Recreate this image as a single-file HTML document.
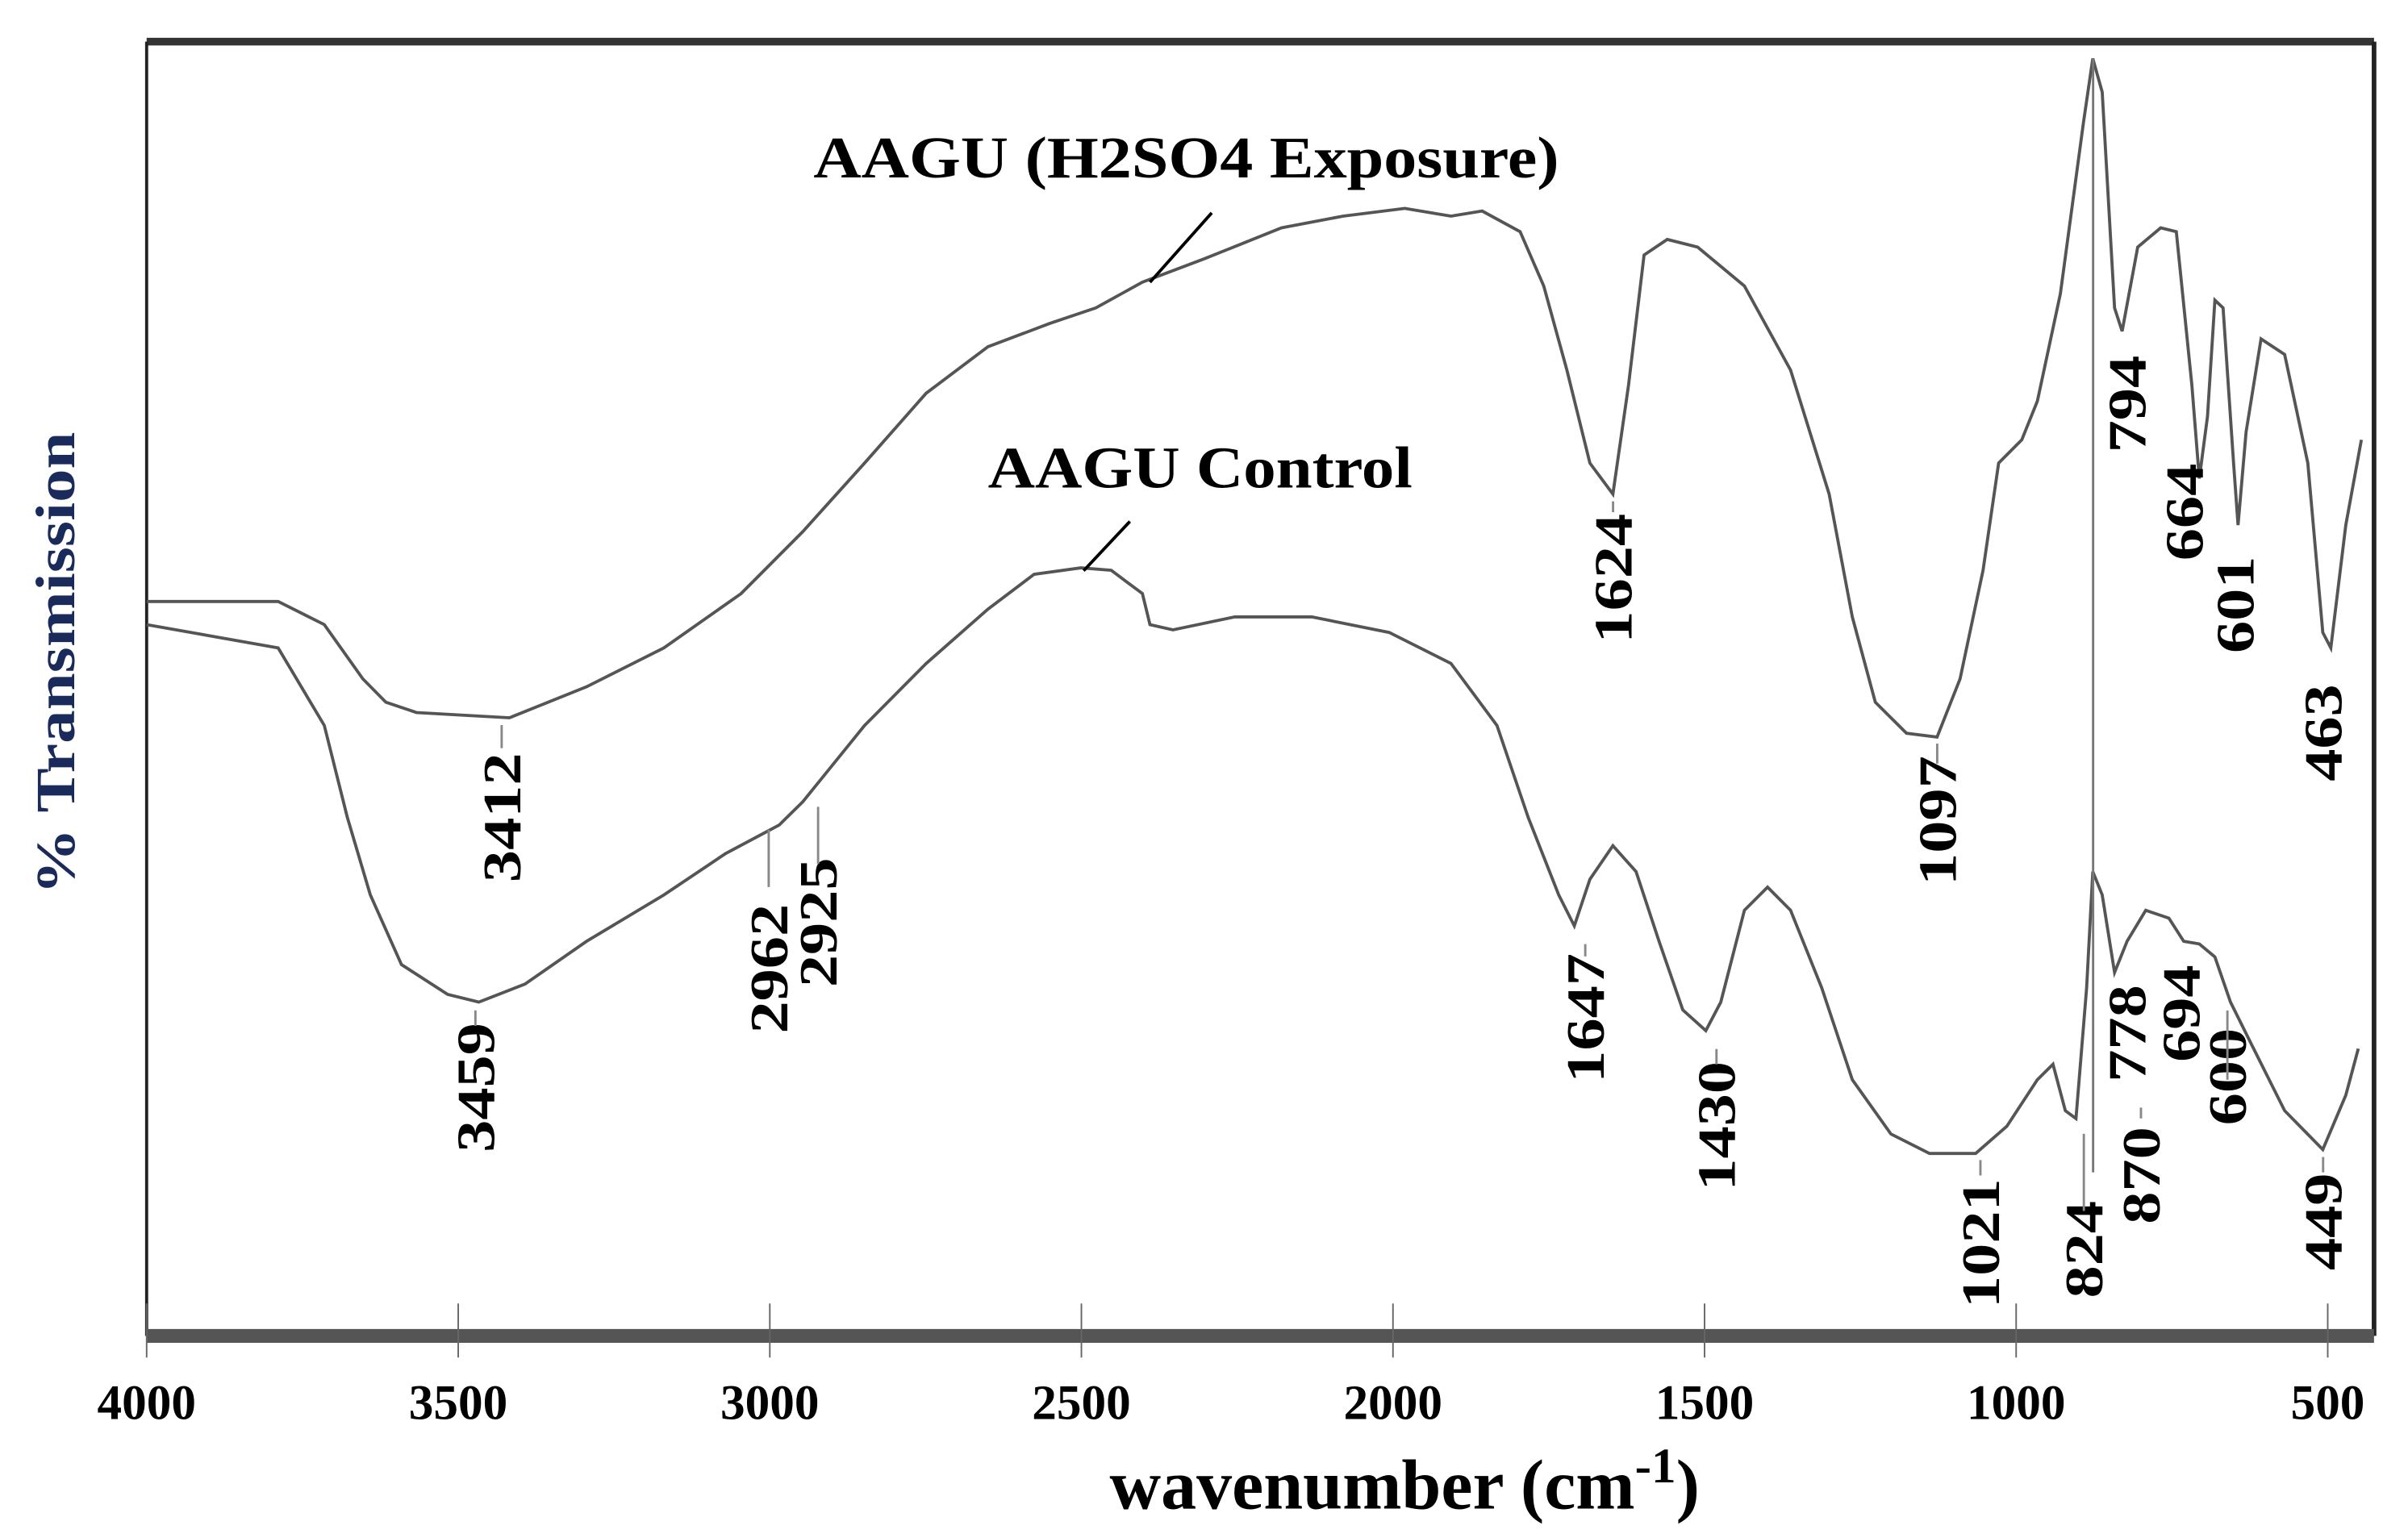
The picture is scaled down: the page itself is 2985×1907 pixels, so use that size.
<!DOCTYPE html>
<html><head><meta charset="utf-8"><style>
html,body{margin:0;padding:0;background:#fff;}
svg{display:block;}
text{font-family:"Liberation Serif",serif;font-weight:bold;fill:#000;}
</style></head><body>
<svg id="chart" width="2985" height="1907" viewBox="0 0 1560 997" preserveAspectRatio="none" xmlns="http://www.w3.org/2000/svg">
<rect x="0" y="0" width="1560" height="997" fill="#fff"/>
<g id="frame">
<line x1="95" y1="27" x2="1538" y2="27" stroke="#333" stroke-width="5"/>
<line x1="95" y1="27" x2="95" y2="866" stroke="#222" stroke-width="2"/>
<line x1="1538" y1="27" x2="1538" y2="866" stroke="#222" stroke-width="3"/>
<line x1="95" y1="866" x2="1538" y2="866" stroke="#555" stroke-width="9"/>
</g>
<g id="ticks"></g>
<g id="series"></g>
<g id="peaks"></g>
<line x1="1356" y1="38" x2="1356" y2="760" stroke="#777" stroke-width="1.5"/>
<text x="527" y="115" font-size="38" textLength="483" lengthAdjust="spacingAndGlyphs">AAGU (H2SO4 Exposure)</text>
<line x1="745" y1="183" x2="785" y2="138" stroke="#000" stroke-width="2"/>
<text x="640" y="316" font-size="38" textLength="275" lengthAdjust="spacingAndGlyphs">AAGU Control</text>
<line x1="702" y1="370" x2="732" y2="338" stroke="#000" stroke-width="2"/>
<text transform="translate(48,430) rotate(-90)" text-anchor="middle" font-size="36" textLength="300" lengthAdjust="spacingAndGlyphs" style="fill:#1a2a5a">% Transmission</text>
<text x="910" y="978" text-anchor="middle" font-size="46">wavenumber (cm<tspan font-size="32" dy="-17">-1</tspan><tspan dy="17">)</tspan></text>
</svg>
<script>
const tickValues=[4000,3500,3000,2500,2000,1500,1000,500];
const upperW=[4000,3789,3715,3653,3616,3567,3418,3294,3170,3046,2947,2848,2749,2650,2551,2477,2402,2303,2179,2080,1981,1907,1857,1796,1758,1721,1684,1647,1622,1597,1560,1511,1436,1362,1300,1263,1226,1176,1127,1090,1053,1028,991,966,929,892,877,862,842,830,805,768,743,718,706,693,681,668,651,644,631,607,569,532,508,495,471,446];
const upperT=[56.7,56.7,54.9,50.7,48.9,48.1,47.7,50.1,53.1,57.3,62.1,67.4,72.8,76.4,78.2,79.4,81.4,83.2,85.6,86.5,87.1,86.5,86.9,85.3,81.1,74.6,67.4,65.0,73.4,83.5,84.7,84.1,81.1,74.6,65.0,55.5,48.9,46.5,46.2,50.7,59.1,67.4,69.2,72.2,80.5,93.7,98.7,96.1,79.4,77.6,84.1,85.6,85.3,73.4,66.2,71.0,80.0,79.4,67.4,62.6,69.8,77.0,75.8,67.4,54.3,53.1,62.6,69.2];
const lowerW=[4000,3789,3715,3678,3641,3591,3517,3467,3393,3294,3170,3071,2985,2947,2848,2749,2650,2576,2501,2452,2402,2390,2353,2254,2130,2006,1907,1833,1783,1734,1709,1684,1647,1610,1573,1535,1498,1474,1436,1399,1362,1312,1263,1201,1139,1065,1015,966,941,921,904,887,877,862,842,822,792,755,731,706,681,656,619,569,508,471,451];
const lowerT=[54.9,53.1,47.1,40.0,34.0,28.6,26.3,25.7,27.1,30.4,34.0,37.2,39.4,41.2,47.1,51.9,56.1,58.8,59.3,59.1,57.3,54.9,54.5,55.5,55.5,54.3,51.9,47.1,40.0,34.0,31.6,35.2,37.8,35.8,30.4,25.1,23.5,25.7,32.8,34.6,32.8,26.8,19.7,15.5,14.0,14.0,16.1,19.7,20.9,17.3,16.7,26.8,35.8,34.0,28.0,30.4,32.8,32.2,30.4,30.2,29.2,25.7,22.1,17.3,14.3,18.5,22.1];
const peakNames=["3412","3459","2962","2925","1624","1097","1647","1430","1021","824","870","778","694","600","794","664","601","463","449"];
const peakLabelX=[325,308,498,530,1045,1255,1027,1112,1283,1350,1387,1378,1413,1443,1378,1415,1448,1505,1505];
const peakLabelY=[530,705,628,598,375,532,660,730,806,810,762,670,657,698,262,332,392,475,792];
const peakTickTop=[470,655,538,523,325,482,612,680,752,735,718,0,0,655,0,0,0,0,750];
const peakTickBot=[485,665,575,560,332,495,620,690,762,785,725,0,0,700,0,0,0,0,760];
const ns="http://www.w3.org/2000/svg";
function sx(w){return 95+(4000-w)*(1508-95)/3500;}
function sy(t){return 865-t*8.38;}
const tg=document.getElementById('ticks');
tickValues.forEach(v=>{
  const x=sx(v);
  const l=document.createElementNS(ns,'line');
  
  
  l.setAttribute('x1',x);l.setAttribute('x2',x);l.setAttribute('y1',845);l.setAttribute('y2',880);
  l.setAttribute('stroke','#666');l.setAttribute('stroke-width','1');
  tg.appendChild(l);
  const t=document.createElementNS(ns,'text');
  
  
  t.setAttribute('x',x);t.setAttribute('y',920);t.setAttribute('text-anchor','middle');t.setAttribute('font-size','32');
  t.textContent=v;tg.appendChild(t);
});
const sg=document.getElementById('series');
function path(W,T,name){
  const p=document.createElementNS(ns,'path');
  
  
  p.setAttribute('d',W.map((w,i)=>(i?'L':'M')+sx(w).toFixed(1)+' '+sy(T[i]).toFixed(1)).join(' '));
  p.setAttribute('fill','none');p.setAttribute('stroke','#555');p.setAttribute('stroke-width','2');
  sg.appendChild(p);
}
path(upperW,upperT,'h2so4-exposure-spectrum');
path(lowerW,lowerT,'control-spectrum');
const pg=document.getElementById('peaks');
peakNames.forEach((n,i)=>{
  const t=document.createElementNS(ns,'text');
  
  
  t.setAttribute('transform','translate('+(peakLabelX[i]+12)+','+peakLabelY[i]+') rotate(-90)');
  t.setAttribute('text-anchor','middle');t.setAttribute('font-size','35');
  t.setAttribute('textLength',n.length*21);
  t.setAttribute('lengthAdjust','spacingAndGlyphs');
  t.textContent=n;pg.appendChild(t);
  if(peakTickBot[i]>0){
    const l=document.createElementNS(ns,'line');
    
    
    l.setAttribute('x1',peakLabelX[i]);l.setAttribute('x2',peakLabelX[i]);
    l.setAttribute('y1',peakTickTop[i]);l.setAttribute('y2',peakTickBot[i]);
    l.setAttribute('stroke','#888');l.setAttribute('stroke-width','1.5');
    pg.appendChild(l);
  }
});
</script>
</body></html>
